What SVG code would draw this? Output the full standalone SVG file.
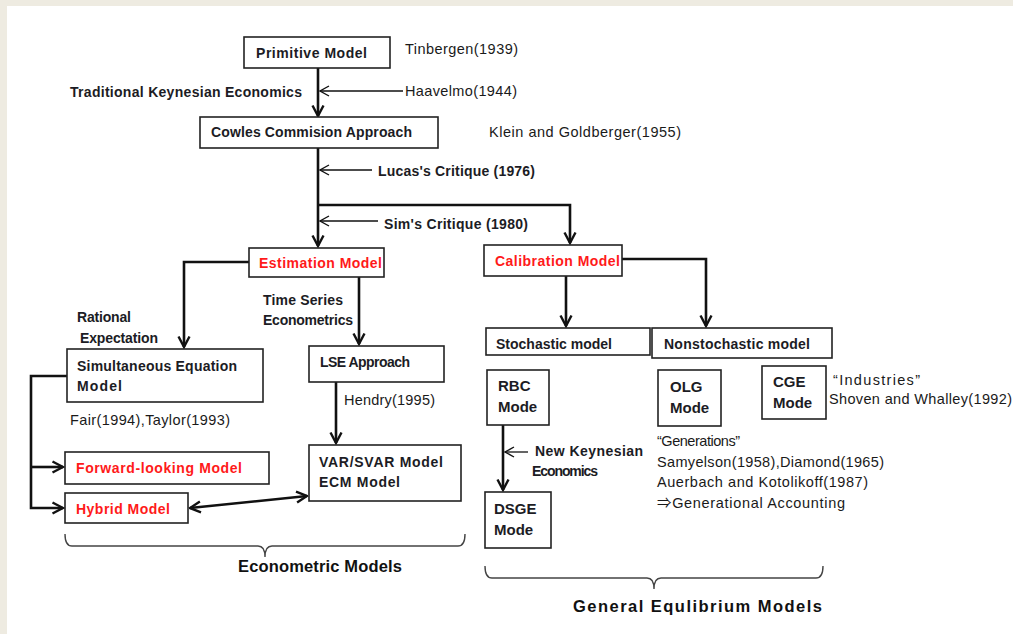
<svg xmlns="http://www.w3.org/2000/svg" width="1013" height="634" viewBox="0 0 1013 634">
  <style>
    .box { fill: #ffffff; stroke: #222222; stroke-width: 1.6; }
    .b { font-family: "Liberation Sans", Arial, sans-serif; font-weight: bold; font-size: 14px; fill: #1c1c24; }
    .bl { font-family: "Liberation Sans", Arial, sans-serif; font-weight: bold; font-size: 15px; fill: #1c1c24; }
    .r { font-family: "Liberation Sans", Arial, sans-serif; font-weight: bold; font-size: 14px; fill: #ff1a1a; }
    .n { font-family: "Liberation Sans", Arial, "Noto Sans CJK JP", sans-serif; font-size: 14.5px; fill: #1a1a1a; }
    .cap { font-family: "Liberation Sans", Arial, sans-serif; font-weight: bold; font-size: 16.5px; fill: #111111; }
    .main { fill: none; stroke: #111111; stroke-width: 2.6; marker-end: url(#ah); }
    .thin { fill: none; stroke: #111111; stroke-width: 1.3; marker-end: url(#ahs); }
    .brace { fill: none; stroke: #444444; stroke-width: 1.4; }
  </style>
  <defs>
    <marker id="ah" viewBox="0 0 14 14" refX="12.5" refY="7" markerWidth="14" markerHeight="14" markerUnits="userSpaceOnUse" orient="auto-start-reverse">
      <path d="M2,1.5 L12.5,7 L2,12.5" fill="none" stroke="#111111" stroke-width="2.4"/>
    </marker>
    <marker id="ahs" viewBox="0 0 12 12" refX="11" refY="6" markerWidth="12" markerHeight="12" markerUnits="userSpaceOnUse" orient="auto">
      <path d="M2,1 L11,6 L2,11" fill="none" stroke="#111111" stroke-width="1.4"/>
    </marker>
  </defs>

  <!-- page -->
  <rect x="0" y="0" width="1013" height="634" fill="#ffffff"/>
  <rect x="0" y="0" width="7" height="634" fill="#eeebe1"/>
  <rect x="0" y="0" width="1013" height="6" fill="#eeebe1"/>

  <!-- connectors -->
  <g id="connectors">
    <path class="main" d="M318,68 V116"/>
    <path class="main" d="M318,148 V246"/>
    <path class="main" d="M318,205 H570 V243"/>
    <path class="thin" d="M403,91 H320"/>
    <path class="thin" d="M372,170 H320"/>
    <path class="thin" d="M378,221 H320"/>
    <path class="main" d="M249,262 H184 V347"/>
    <path class="main" d="M359,277 V344"/>
    <path class="main" d="M67,376 H31 V508 H63"/>
    <path class="main" d="M31,467 H63"/>
    <path class="main" d="M336,382 V443"/>
    <path class="main" style="marker-start:url(#ah)" d="M190,508 L307,496"/>
    <path class="main" d="M566,276 V326"/>
    <path class="main" d="M622,259 H706 V326"/>
    <path class="main" d="M503,425 V490"/>
    <path class="thin" d="M528,452 H505"/>
  </g>

  <!-- free labels -->
  <g id="labels">
    <text class="n" x="405" y="54" textLength="113">Tinbergen(1939)</text>
    <text class="b" x="70" y="97" textLength="232">Traditional  Keynesian  Economics</text>
    <text class="n" x="405" y="96" textLength="112">Haavelmo(1944)</text>
    <text class="n" x="489" y="137" textLength="192">Klein and Goldberger(1955)</text>
    <text class="b" x="378" y="176" textLength="157">Lucas's Critique  (1976)</text>
    <text class="b" x="384" y="229" textLength="144">Sim's Critique  (1980)</text>
    <text class="b" x="77" y="322" textLength="54">Rational</text>
    <text class="b" x="80" y="343" textLength="78">Expectation</text>
    <text class="b" x="263" y="305" textLength="80">Time Series</text>
    <text class="b" x="263" y="325" textLength="90">Econometrics</text>
    <text class="n" x="344" y="405" textLength="91">Hendry(1995)</text>
    <text class="n" x="70" y="425" textLength="160">Fair(1994),Taylor(1993)</text>
    <text class="b" x="535" y="456" textLength="108">New Keynesian</text>
    <text class="b" x="532" y="476" textLength="66">Economics</text>
    <text class="n" x="833" y="385" textLength="87">“Industries”</text>
    <text class="n" x="829" y="404" textLength="183">Shoven and Whalley(1992)</text>
    <text class="n" x="657" y="446" textLength="83">“Generations”</text>
    <text class="n" x="657" y="467" textLength="227">Samyelson(1958),Diamond(1965)</text>
    <text class="n" x="657" y="487" textLength="211">Auerbach and Kotolikoff(1987)</text>
    <text class="n" x="657" y="508" textLength="188">⇒Generational Accounting</text>
  </g>

  <!-- group braces -->
  <g id="econometric-models">
    <path class="brace" d="M65,534 Q65,546 72,546 H258 Q265,546 265,557 Q265,546 272,546 H458 Q465,546 465,534"/>
    <text class="cap" x="238" y="572" textLength="164">Econometric Models</text>
  </g>
  <g id="general-equilibrium-models">
    <path class="brace" d="M485,566 Q485,578 492,578 H647 Q654,578 654,589 Q654,578 661,578 H816 Q823,578 823,566"/>
    <text class="cap" x="573" y="612" textLength="249">General Equlibrium Models</text>
  </g>

  <!-- nodes -->
  <g id="primitive-model">
    <rect class="box" x="244" y="37" width="146" height="31"/>
    <text class="b" x="256" y="58" textLength="111">Primitive Model</text>
  </g>
  <g id="cowles-commission">
    <rect class="box" x="200" y="117" width="238" height="31"/>
    <text class="b" x="211" y="137" textLength="201">Cowles Commision  Approach</text>
  </g>
  <g id="estimation-model">
    <rect class="box" x="249" y="248" width="135" height="29"/>
    <text class="r" x="259" y="268" textLength="123">Estimation  Model</text>
  </g>
  <g id="calibration-model">
    <rect class="box" x="484" y="245" width="138" height="31"/>
    <text class="r" x="495" y="266" textLength="125">Calibration  Model</text>
  </g>
  <g id="simultaneous-equation-model">
    <rect class="box" x="67" y="349" width="196" height="53"/>
    <text class="b" x="77" y="371" textLength="160">Simultaneous  Equation</text>
    <text class="b" x="77" y="391" textLength="45">Model</text>
  </g>
  <g id="lse-approach">
    <rect class="box" x="309" y="346" width="135" height="36"/>
    <text class="b" x="320" y="367" textLength="90">LSE Approach</text>
  </g>
  <g id="forward-looking-model">
    <rect class="box" x="65" y="452" width="204" height="32"/>
    <text class="r" x="76" y="473" textLength="166">Forward-looking  Model</text>
  </g>
  <g id="hybrid-model">
    <rect class="box" x="65" y="493" width="123" height="30"/>
    <text class="r" x="76" y="514" textLength="94">Hybrid Model</text>
  </g>
  <g id="var-svar-model">
    <rect class="box" x="309" y="445" width="152" height="56"/>
    <text class="b" x="319" y="467" textLength="124">VAR/SVAR Model</text>
    <text class="b" x="319" y="487" textLength="81">ECM Model</text>
  </g>
  <g id="stochastic-model">
    <rect class="box" x="486" y="328" width="164" height="27"/>
    <text class="b" x="496" y="349" textLength="116">Stochastic  model</text>
  </g>
  <g id="nonstochastic-model">
    <rect class="box" x="652" y="328" width="180" height="30"/>
    <text class="b" x="664" y="349" textLength="146">Nonstochastic  model</text>
  </g>
  <g id="rbc-model">
    <rect class="box" x="487" y="370" width="62" height="55"/>
    <text class="bl" x="498" y="391">RBC</text>
    <text class="bl" x="498" y="412">Mode</text>
  </g>
  <g id="olg-model">
    <rect class="box" x="658" y="370" width="63" height="56"/>
    <text class="bl" x="670" y="392">OLG</text>
    <text class="bl" x="670" y="413">Mode</text>
  </g>
  <g id="cge-model">
    <rect class="box" x="762" y="366" width="64" height="53"/>
    <text class="bl" x="773" y="387">CGE</text>
    <text class="bl" x="773" y="408">Mode</text>
  </g>
  <g id="dsge-model">
    <rect class="box" x="485" y="492" width="66" height="56"/>
    <text class="bl" x="494" y="514">DSGE</text>
    <text class="bl" x="494" y="535">Mode</text>
  </g>
</svg>
